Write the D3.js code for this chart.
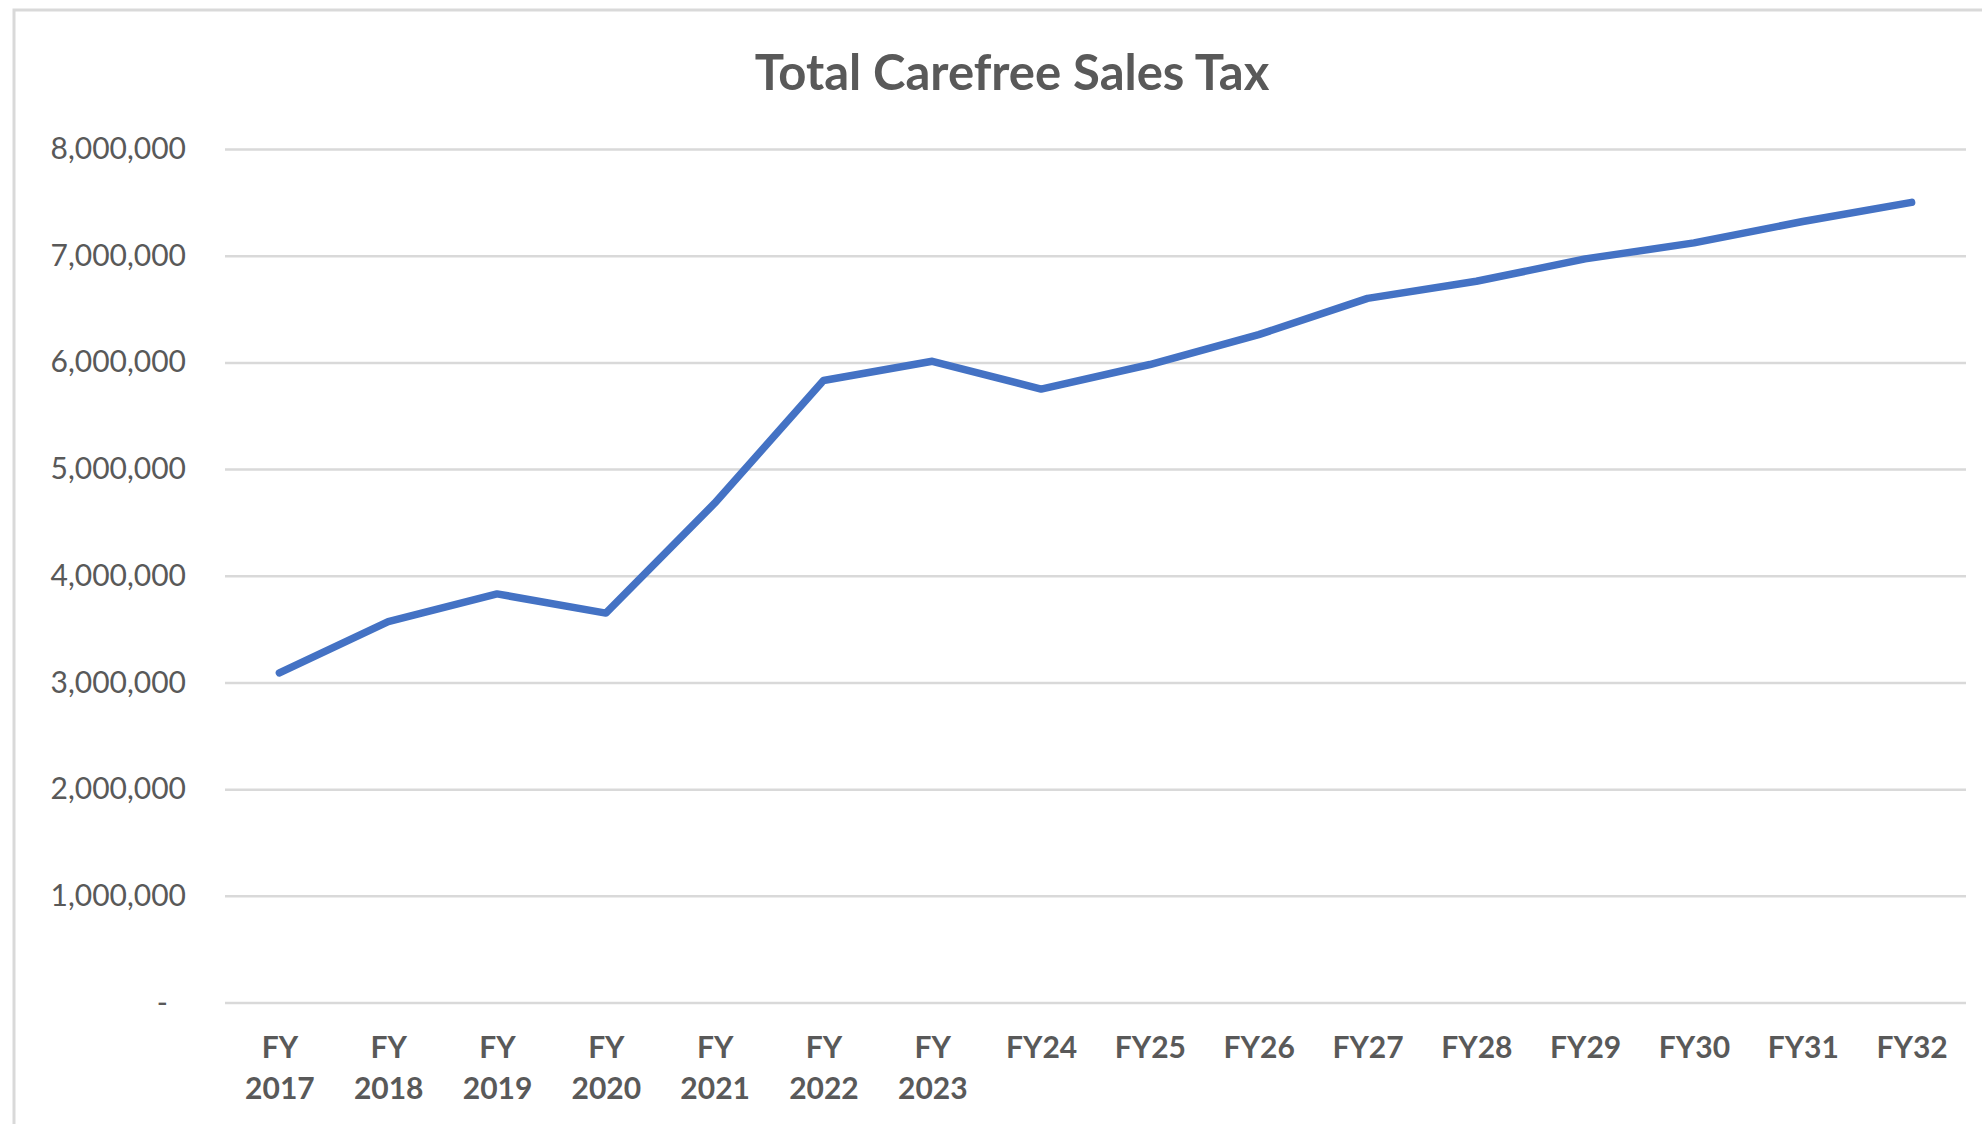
<!DOCTYPE html>
<html>
<head>
<meta charset="utf-8">
<script src="https://cdn.jsdelivr.net/npm/d3@7"></script>
<style>
  body { margin: 0; background: #fff; }
  svg { display: block; }
</style>
</head>
<body>
<svg width="1982" height="1124"></svg>
<script>
// chart data
const categories = ["FY 2017", "FY 2018", "FY 2019", "FY 2020", "FY 2021", "FY 2022", "FY 2023",
  "FY24", "FY25", "FY26", "FY27", "FY28", "FY29", "FY30", "FY31", "FY32"];
const salesTax = [3090000, 3570000, 3830000, 3650000, 4680000, 5830000, 6010000,
  5750000, 5980000, 6260000, 6600000, 6760000, 6970000, 7120000, 7320000, 7500000];
const yTicks = [0, 1000000, 2000000, 3000000, 4000000, 5000000, 6000000, 7000000, 8000000];
const title = "Total Carefree Sales Tax";

const font = "Lato, 'Open Sans', sans-serif";
const svg = d3.select("svg");
const plot = {left: 225, right: 1966, top: 149, bottom: 1002.5};

// chart area border (cut off at right/bottom like the screenshot)
svg.append("rect")
  .attr("x", 14).attr("y", 10)
  .attr("width", 2100).attr("height", 1200)
  .attr("fill", "none")
  .attr("stroke", "#d9d9d9")
  .attr("stroke-width", 3);

const x = d3.scalePoint()
  .domain(categories)
  .range([plot.left, plot.right])
  .padding(0.5);

const y = d3.scaleLinear()
  .domain([0, 8000000])
  .range([plot.bottom, plot.top]);

// y axis + gridlines
const yAxis = svg.append("g")
  .attr("transform", `translate(${plot.left},0)`)
  .call(d3.axisLeft(y)
    .tickValues(yTicks)
    .tickSize(-(plot.right - plot.left))
    .tickPadding(39)
    .tickFormat(d => d === 0 ? "-" : d3.format(",")(d)));
yAxis.attr("font-family", font).attr("font-size", 30);
yAxis.select(".domain").remove();
yAxis.selectAll(".tick line")
  .attr("stroke", "#d9d9d9")
  .attr("stroke-width", 2.5);
yAxis.selectAll(".tick text")
  .attr("fill", "#595959")
  .attr("dx", d => d === 0 ? -18 : 0);

// x axis labels (two lines for "FY 20xx")
const xAxis = svg.append("g")
  .attr("transform", `translate(0,${plot.bottom})`)
  .call(d3.axisBottom(x).tickSize(0).tickPadding(0));
xAxis.attr("font-family", font).attr("font-size", 30).attr("font-weight", "bold");
xAxis.select(".domain").remove();
xAxis.selectAll(".tick text").each(function(d) {
  const t = d3.select(this);
  t.text(null)
    .attr("y", 0).attr("dy", null)
    .attr("fill", "#595959");
  d.split(" ").forEach((part, i) => {
    t.append("tspan")
      .attr("x", 0)
      .attr("y", 55 + i * 41)
      .text(part);
  });
});

// line
const line = d3.line()
  .x((d, i) => x(categories[i]))
  .y(d => y(d));

svg.append("path")
  .datum(salesTax)
  .attr("d", line)
  .attr("fill", "none")
  .attr("stroke", "#4472c4")
  .attr("stroke-width", 7.5)
  .attr("stroke-linecap", "round")
  .attr("stroke-linejoin", "round");

// title
svg.append("text")
  .attr("x", 1012)
  .attr("y", 90)
  .attr("text-anchor", "middle")
  .attr("fill", "#595959")
  .attr("font-family", font)
  .style("font-size", "49px")
  .style("font-weight", "bold")
  .text(title);
</script>
</body>
</html>
